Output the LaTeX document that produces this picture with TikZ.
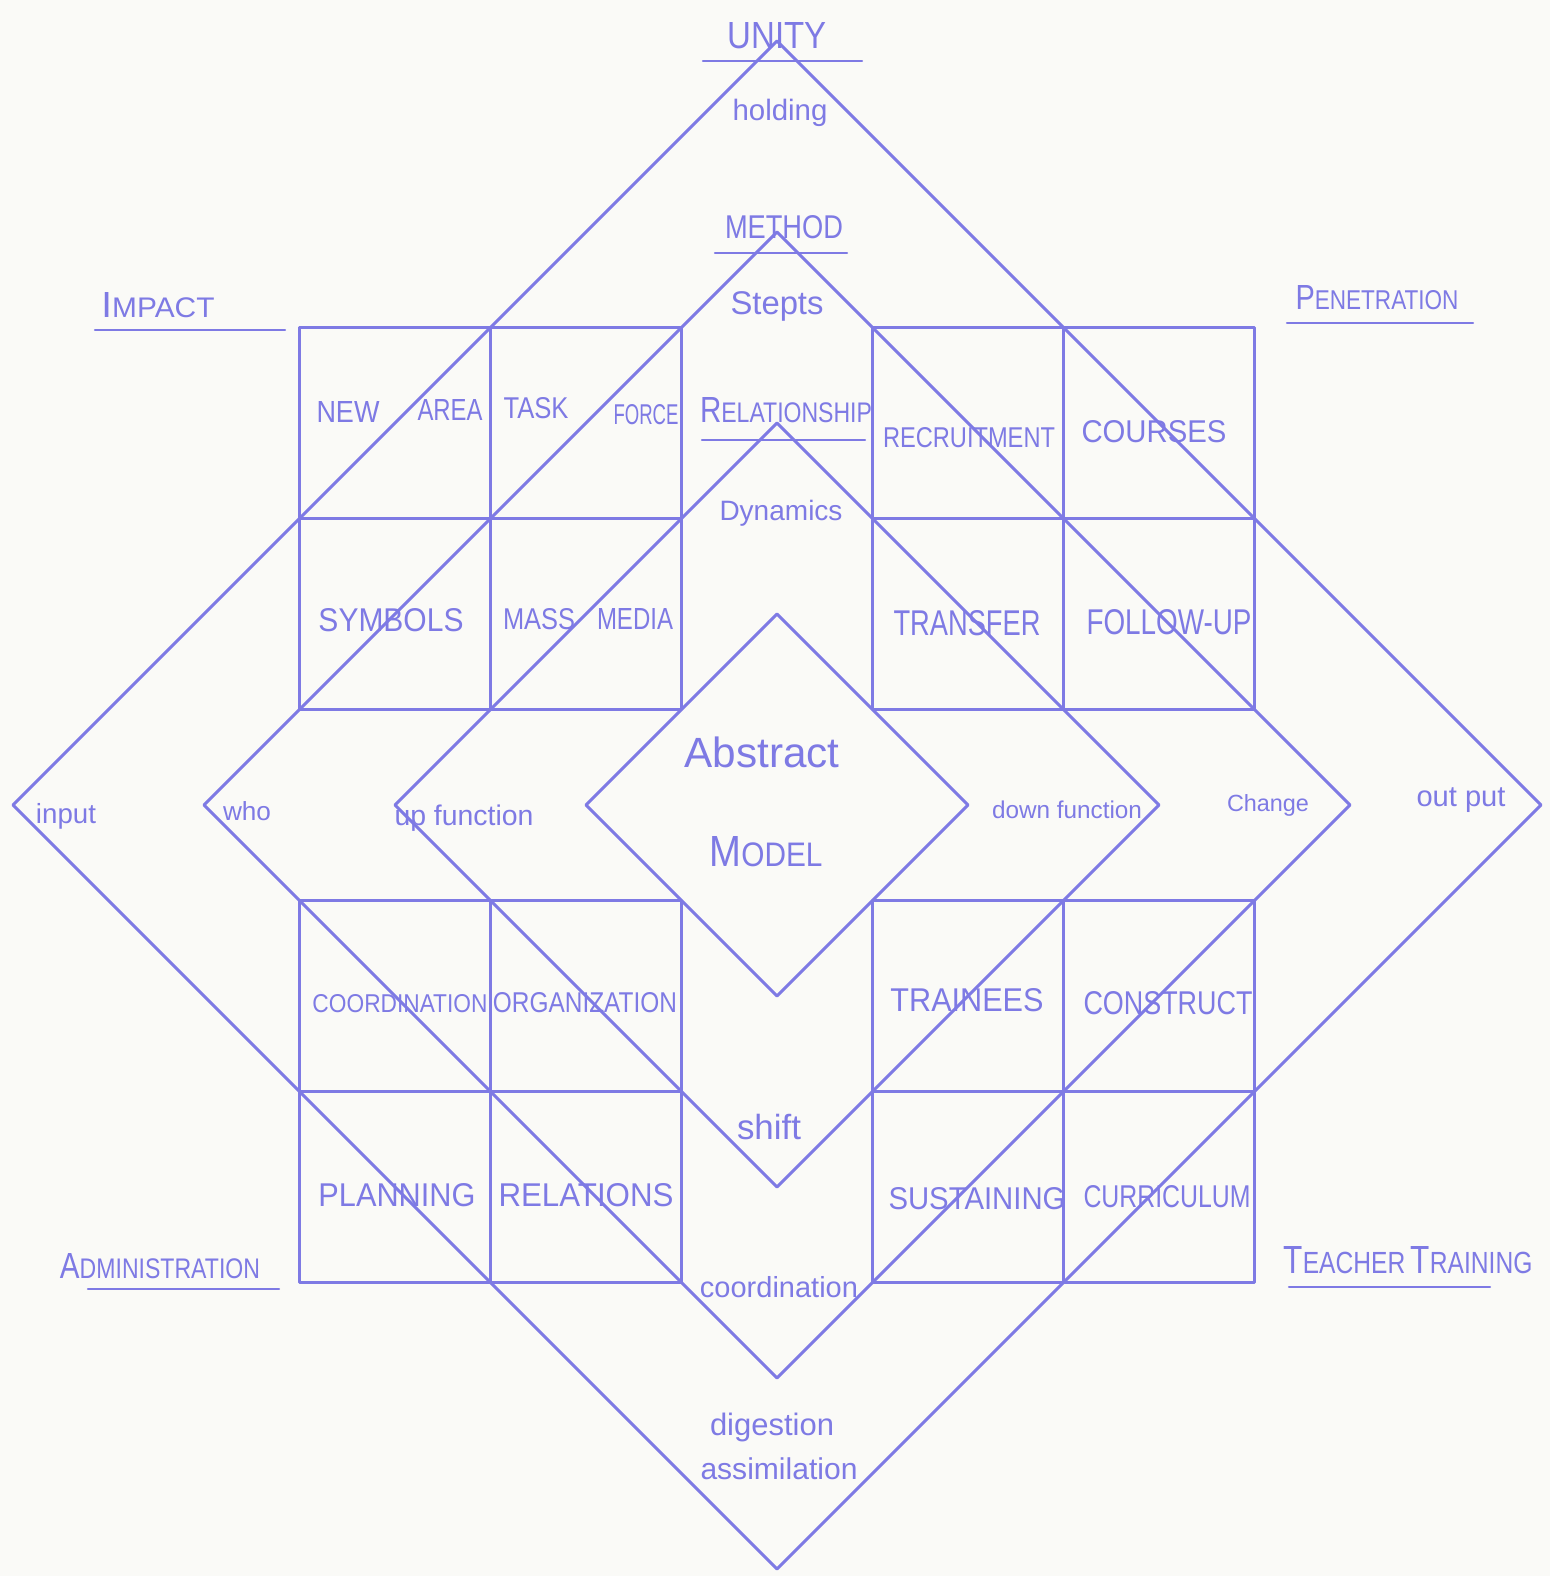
\documentclass[tikz,border=0pt]{standalone}
\usepackage{fontspec}
\setmainfont{Liberation Sans}
\usepackage{graphicx}
\definecolor{ink}{RGB}{126,122,228}
\definecolor{paper}{RGB}{250,250,247}
\newcommand\Cw[3]{\resizebox{#1pt}{#2pt}{#3}}
\newcommand\Lw[2]{\resizebox{#1pt}{!}{#2}}
\newcommand\Sc[1]{\scalebox{0.78}{#1}}
\begin{document}
\begin{tikzpicture}[x=1pt,y=-1pt,
  pencil/.style={draw=ink,line width=3pt,line join=round,line cap=round},
  lbl/.style={text=ink,inner sep=0pt,anchor=center},
  uline/.style={draw=ink,line width=2.2pt,line cap=round}]
\fill[paper] (0,0) rectangle (1550,1576);
\useasboundingbox (0,0) rectangle (1550,1576);

% lattice: centre (777,805), cell 191 x 191
\begin{scope}[shift={(777,805)},x=191pt,y=-191pt]
  \foreach \sx in {-1,1}{
    \foreach \sy in {-1,1}{
      \draw[pencil] (\sx*0.5,\sy*0.5) rectangle (\sx*2.5,\sy*2.5);
      \draw[pencil] (\sx*1.5,\sy*0.5) -- (\sx*1.5,\sy*2.5);
      \draw[pencil] (\sx*0.5,\sy*1.5) -- (\sx*2.5,\sy*1.5);
    }
  }
  \foreach \k in {1,2,3,4}{
    \draw[pencil] (0,-\k) -- (\k,0) -- (0,\k) -- (-\k,0) -- cycle;
  }
\end{scope}

% top column labels
\node[lbl] (unity) at (777,36) {\Cw{99}{26}{UNITY}};
\draw[uline] (703,61) -- (862,61);
\node[lbl] (holding) at (780,113) {\Lw{95}{holding}};
\node[lbl] (method) at (784,227) {\Cw{118}{23}{METHOD}};
\draw[uline] (715,253) -- (847,253);
\node[lbl] (stepts) at (777,306) {\Lw{93}{Stepts}};
\node[lbl] (relship) at (786,410) {\Cw{172}{25}{R\Sc{ELATIONSHIP}}};
\draw[uline] (702,440) -- (865,440);
\node[lbl] (dynamics) at (781,513) {\Lw{123}{Dynamics}};

% upper left grid
\node[lbl] (new) at (348,412) {\Cw{63}{21}{NEW}};
\node[lbl] (area) at (450,410) {\Cw{65}{21}{AREA}};
\node[lbl] (task) at (536,408) {\Cw{65}{21}{TASK}};
\node[lbl] (force) at (646,415) {\Cw{65}{20}{FORCE}};
\node[lbl] (symbols) at (391,620) {\Cw{145}{23}{SYMBOLS}};
\node[lbl] (mass) at (539,619) {\Cw{72}{21}{MASS}};
\node[lbl] (media) at (635,619) {\Cw{76}{21}{MEDIA}};

% upper right grid
\node[lbl] (recruit) at (969,438) {\Cw{172}{20}{RECRUITMENT}};
\node[lbl] (courses) at (1154,432) {\Cw{145}{22}{COURSES}};
\node[lbl] (transfer) at (967,623) {\Cw{147}{25}{TRANSFER}};
\node[lbl] (followup) at (1169,622) {\Cw{165}{25}{FOLLOW-UP}};

% lower left grid
\node[lbl] (coordcap) at (400,1004) {\Cw{175}{18}{COORDINATION}};
\node[lbl] (organiz) at (585,1003) {\Cw{184}{20}{ORGANIZATION}};
\node[lbl] (planning) at (397,1195) {\Cw{157}{23}{PLANNING}};
\node[lbl] (relations) at (586,1195) {\Cw{175}{23}{RELATIONS}};

% lower right grid
\node[lbl] (trainees) at (967,1000) {\Cw{153}{23}{TRAINEES}};
\node[lbl] (construct) at (1168,1003) {\Cw{169}{23}{CONSTRUCT}};
\node[lbl] (sustain) at (977,1199) {\Cw{177}{22}{SUSTAINING}};
\node[lbl] (curric) at (1167,1197) {\Cw{167}{22}{CURRICULUM}};

% middle row
\node[lbl] (input) at (66,816) {\Lw{60}{input}};
\node[lbl] (who) at (247,811) {\Lw{48}{who}};
\node[lbl] (upfn) at (464,818) {\Lw{139}{up function}};
\node[lbl] (abstract) at (762,752) {\Lw{155}{Abstract}};
\node[lbl] (model) at (766,852) {\Cw{113}{30}{M\Sc{ODEL}}};
\node[lbl] (downfn) at (1067,810) {\Lw{150}{down function}};
\node[lbl] (change) at (1268,805) {\Lw{82}{Change}};
\node[lbl] (output) at (1461,800) {\Lw{89}{out put}};

% lower column
\node[lbl] (shift) at (769,1127) {\Lw{64}{shift}};
\node[lbl] (coordlow) at (779,1287) {\Lw{158}{coordination}};
\node[lbl] (digestion) at (772,1427) {\Lw{124}{digestion}};
\node[lbl] (assim) at (779,1469) {\Lw{157}{assimilation}};

% corner titles
\node[lbl] (impact) at (158,305) {\Cw{113}{25}{I\Sc{MPACT}}};
\draw[uline] (95,330) -- (285,330);
\node[lbl] (penet) at (1377,298) {\Cw{163}{24}{P\Sc{ENETRATION}}};
\draw[uline] (1287,323) -- (1473,323);
\node[lbl] (admin) at (160,1266) {\Cw{200}{25}{A\Sc{DMINISTRATION}}};
\draw[uline] (88,1289) -- (279,1289);
\node[lbl] (teacher) at (1408,1260) {\Cw{249}{27}{T\Sc{EACHER}\,T\Sc{RAINING}}};
\draw[uline] (1289,1287) -- (1490,1287);
\end{tikzpicture}
\end{document}
